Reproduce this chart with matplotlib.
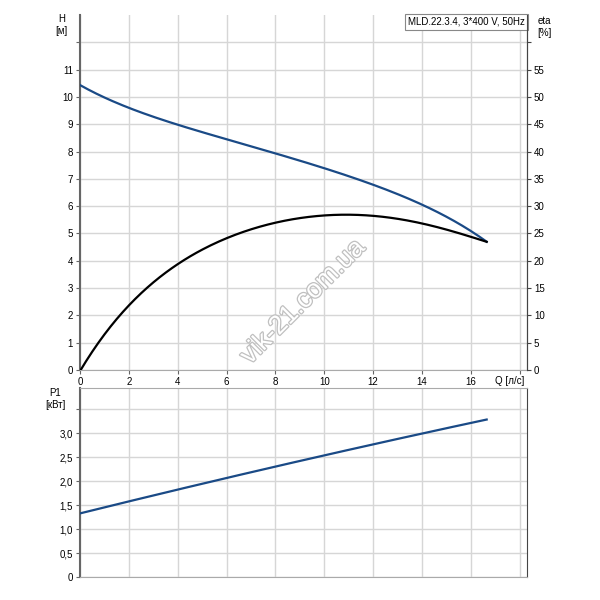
import numpy as np
import matplotlib.pyplot as plt
import matplotlib.patheffects as pe

plt.rcParams['font.family'] = ['Liberation Sans', 'DejaVu Sans']

# H curve
q_h = [0, 2, 4, 6, 8, 10, 12, 14, 16.65]
h = [10.44, 9.58, 9.01, 8.45, 7.91, 7.39, 6.81, 6.04, 4.70]

# eta curve
q_eta = [0, 1, 2, 3, 4, 6, 8, 10, 11, 12, 14, 16.65]
eta = [0, 6.0, 12.0, 16.2, 19.5, 23.9, 27.0, 28.2, 28.5, 28.4, 26.7, 23.5]

# P1 curve
q_p = [0, 2, 4, 6, 8, 12, 16.65]
p1 = [1.33, 1.58, 1.81, 2.06, 2.31, 2.77, 3.28]

blue = '#1a4a86'
grid_c = '#d6d6d6'
spine_c = '#666666'
fs = 7

def smooth(x, y, deg):
    xs = np.linspace(x[0], x[-1], 200)
    c = np.polyfit(x, y, deg)
    return xs, np.polyval(c, xs)

fig = plt.figure(figsize=(6, 6), dpi=100)
ax = fig.add_axes([0.1333, 0.3833, 0.745, 0.5917])
ax2 = ax.twinx()
bx = fig.add_axes([0.1333, 0.0383, 0.745, 0.315])

ax.set_xlim(0, 18.3)
ax.set_ylim(0, 13)
ax2.set_ylim(0, 65)
bx.set_xlim(0, 18.3)
bx.set_ylim(0, 3.94)

xs, ys = smooth(q_h, h, 5)
ax.plot(xs, ys, color=blue, lw=1.6, zorder=3)
xs, ys = smooth(q_eta, eta, 5)
ax2.plot(xs, ys, color='black', lw=1.6, zorder=3)
xs, ys = smooth(q_p, p1, 2)
bx.plot(xs, ys, color=blue, lw=1.6, zorder=3)

xt = list(range(0, 19, 2))
ax.set_xticks(xt)
ax.set_xticklabels([str(v) for v in xt[:-1]] + [''])
ax.set_yticks(range(0, 13))
ax.set_yticklabels([str(v) for v in range(0, 12)] + [''])
ax2.set_yticks(range(0, 61, 5))
ax2.set_yticklabels([str(v) for v in range(0, 56, 5)] + [''])
bx.set_xticks(xt)
bx.set_xticklabels([])
pt = [0, 0.5, 1.0, 1.5, 2.0, 2.5, 3.0, 3.5]
bx.set_yticks(pt)
bx.set_yticklabels(['0', '0,5', '1,0', '1,5', '2,0', '2,5', '3,0', ''])

for a in (ax, bx):
    a.grid(True, color=grid_c, lw=1)
    a.set_axisbelow(True)
    a.tick_params(labelsize=fs, length=3, color=spine_c, pad=2)
    a.spines['left'].set_color(spine_c)
    a.spines['left'].set_linewidth(1.5)
    a.spines['bottom'].set_color('#aaaaaa')
    a.spines['right'].set_color('#444444')
ax.spines['top'].set_visible(False)
ax2.spines['top'].set_visible(False)
ax2.spines['left'].set_visible(False)
ax2.spines['bottom'].set_visible(False)
ax2.spines['right'].set_color('#444444')
ax2.tick_params(labelsize=fs, length=3, color='#444444', pad=2)
bx.spines['top'].set_color('#aaaaaa')
bx.tick_params(axis='x', length=0)

fig.text(0.103, 0.958, 'H\n[м]', fontsize=fs, ha='center', va='center', linespacing=1.3)
fig.text(0.907, 0.955, 'eta\n[%]', fontsize=fs, ha='center', va='center', linespacing=1.3)
fig.text(0.092, 0.335, 'P1\n[кВт]', fontsize=fs, ha='center', va='center', linespacing=1.3)
fig.text(0.825, 0.3655, 'Q [л/с]', fontsize=fs, ha='left', va='center')

ax.text(0.995, 0.995, 'MLD.22.3.4, 3*400 V, 50Hz', transform=ax.transAxes,
        fontsize=fs, ha='right', va='top',
        bbox=dict(boxstyle='square,pad=0.3', fc='white', ec='#888888', lw=0.8), zorder=5)

fig.text(0.505, 0.497, 'vik-21.com.ua', fontsize=19, rotation=45, ha='center', va='center',
         color='white', path_effects=[pe.withStroke(linewidth=1.8, foreground='#c0c0c0')],
         zorder=10)

fig.savefig('out.png')
